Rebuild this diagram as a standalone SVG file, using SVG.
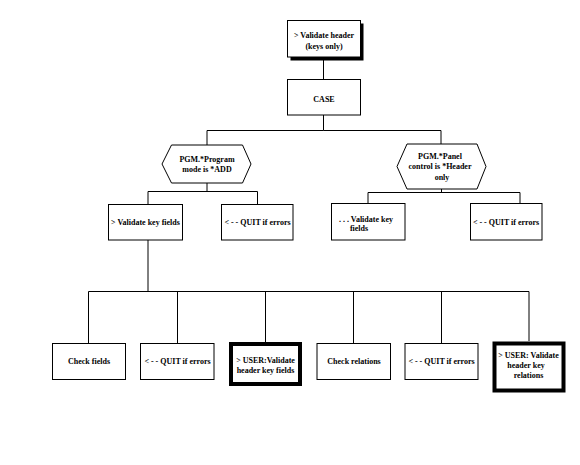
<svg xmlns="http://www.w3.org/2000/svg" width="580" height="465" viewBox="0 0 580 465">
<style>
rect.b{fill:#fff;stroke:#000;stroke-width:1}
rect.t{fill:#fff;stroke:#000;stroke-width:4}
polygon.h{fill:#fff;stroke:#000;stroke-width:1}
text{font-family:"Liberation Serif","Times New Roman",serif;font-size:8px;font-weight:bold;fill:#000;text-anchor:middle}
#connectors path{fill:none;stroke:#000;stroke-width:1}
</style>
<rect width="580" height="465" fill="#fff"/>
<g id="connectors">
<path d="M323.5 57V79"/>
<path d="M323.5 115V130.5H207V145"/>
<path d="M323.5 130.5H441V144"/>
<path d="M207 183V191.5"/>
<path d="M148 204V191.5H257.5V204"/>
<path d="M441.5 189V192.5"/>
<path d="M368 203V192.5H520V203"/>
<path d="M148 240V291.5"/>
<path d="M88.5 343V291.5H529V341"/>
<path d="M177.5 291.5V343"/>
<path d="M265.5 291.5V342"/>
<path d="M353.5 291.5V343"/>
<path d="M441.5 291.5V343"/>
</g>
<g id="n-header">
<rect x="290.5" y="23.5" width="73" height="37" fill="#000"/>
<rect class="b" x="287.5" y="20.5" width="73" height="36.5"/>
<text x="324" y="37.5">&gt; Validate header</text>
<text x="324" y="48.5">(keys only)</text>
</g>
<g id="n-case">
<rect class="b" x="287.5" y="79.5" width="73" height="35.5"/>
<text x="324" y="102">CASE</text>
</g>
<g id="n-cond1">
<polygon class="h" points="162,164 171.5,145 242.5,145 251,164 242.5,183 171.5,183"/>
<text x="207" y="161.5">PGM.*Program</text>
<text x="207" y="172">mode is *ADD</text>
</g>
<g id="n-cond2">
<polygon class="h" points="397,166.5 407,144 477,144 486,166.5 477,189 407,189"/>
<text x="440" y="158.5">PGM.*Panel</text>
<text x="440" y="169">control is *Header</text>
<text x="442" y="179.5">only</text>
</g>
<g id="n-valkey">
<rect class="b" x="108.5" y="204.5" width="74" height="35.5"/>
<text x="145.5" y="225">&gt; Validate key fields</text>
</g>
<g id="n-quit1">
<rect class="b" x="221.5" y="204.5" width="71.5" height="35.5"/>
<text x="257.5" y="225">&lt; - - QUIT if errors</text>
</g>
<g id="n-valkey2">
<rect class="b" x="331.5" y="203.5" width="73.5" height="36.5"/>
<text x="366" y="221.5">. . . Validate key</text>
<text x="359" y="231">fields</text>
</g>
<g id="n-quit2">
<rect class="b" x="470.5" y="203.5" width="71.5" height="36.5"/>
<text x="506" y="225">&lt; - - QUIT if errors</text>
</g>
<g id="n-check">
<rect class="b" x="52.5" y="343.5" width="73" height="36"/>
<text x="89" y="364">Check fields</text>
</g>
<g id="n-quit3">
<rect class="b" x="140.5" y="343.5" width="73.5" height="36"/>
<text x="177.5" y="364">&lt; - - QUIT if errors</text>
</g>
<g id="n-user1">
<rect class="t" x="231" y="344" width="69" height="40"/>
<text x="265.5" y="363">&gt; USER:Validate</text>
<text x="265.5" y="373">header key fields</text>
</g>
<g id="n-checkrel">
<rect class="b" x="317" y="343.5" width="73.5" height="36"/>
<text x="354" y="364">Check relations</text>
</g>
<g id="n-quit4">
<rect class="b" x="405" y="343.5" width="73" height="36"/>
<text x="441.5" y="364">&lt; - - QUIT if errors</text>
</g>
<g id="n-user2">
<rect class="t" x="494.5" y="343.5" width="69" height="47"/>
<text x="528.5" y="358">&gt; USER: Validate</text>
<text x="526" y="368">header key</text>
<text x="528.5" y="378">relations</text>
</g>
</svg>
